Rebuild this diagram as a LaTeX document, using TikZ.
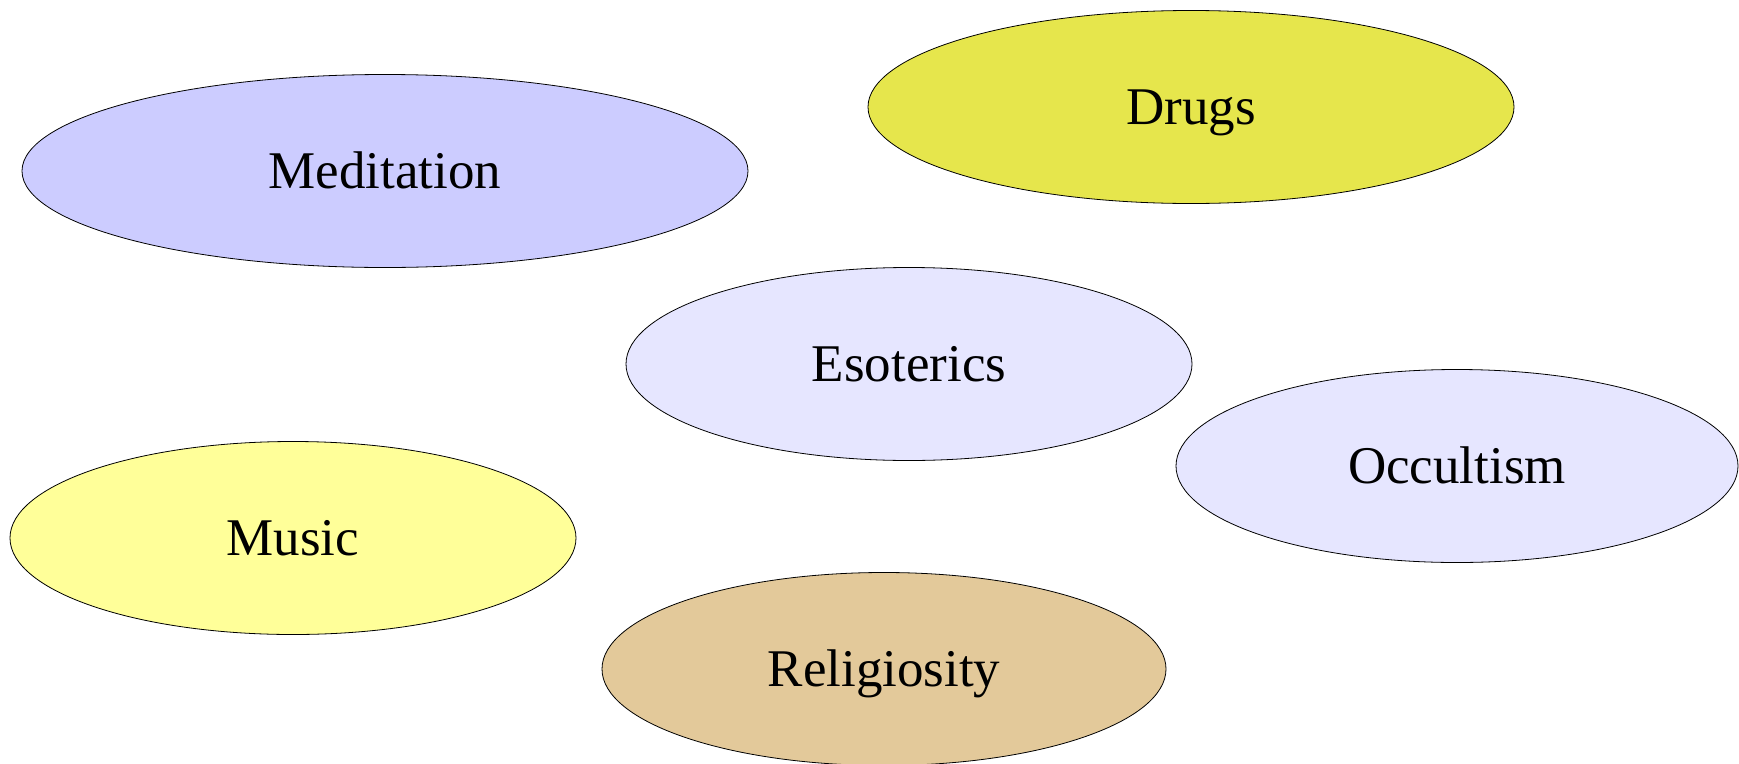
\documentclass[tikz,border=0pt]{standalone}
\usepackage{fontspec}
\setmainfont{Liberation Serif}
\usetikzlibrary{shapes.geometric}
\definecolor{medblue}{HTML}{CCCCFF}
\definecolor{paleblue}{HTML}{E6E6FF}
\definecolor{drugyel}{HTML}{E6E64C}
\definecolor{musicyel}{HTML}{FFFF99}
\definecolor{religtan}{HTML}{E3C99A}
\tikzset{
  blob/.style={ellipse, draw=black, line width=0.8pt, inner sep=0pt,
    minimum height=193pt, font=\fontsize{53}{60}\selectfont,
    text height=35pt, text depth=0pt},
}
\begin{document}
\begin{tikzpicture}[x=1pt,y=-1pt]
\useasboundingbox (0,0) rectangle (1739,763);
\node[blob, fill=medblue, minimum width=726pt] (meditation) at (385,171) {Meditation};
\node[blob, fill=drugyel, minimum width=646pt] (drugs) at (1191,107) {Drugs};
\node[blob, fill=paleblue, minimum width=566pt] (esoterics) at (909,364) {Esoterics};
\node[blob, fill=paleblue, minimum width=562pt] (occultism) at (1457,466) {Occultism};
\node[blob, fill=musicyel, minimum width=566pt] (music) at (293,538) {Music};
\node[blob, fill=religtan, minimum width=564pt] (religiosity) at (884,669) {Religiosity};
\end{tikzpicture}
\end{document}
